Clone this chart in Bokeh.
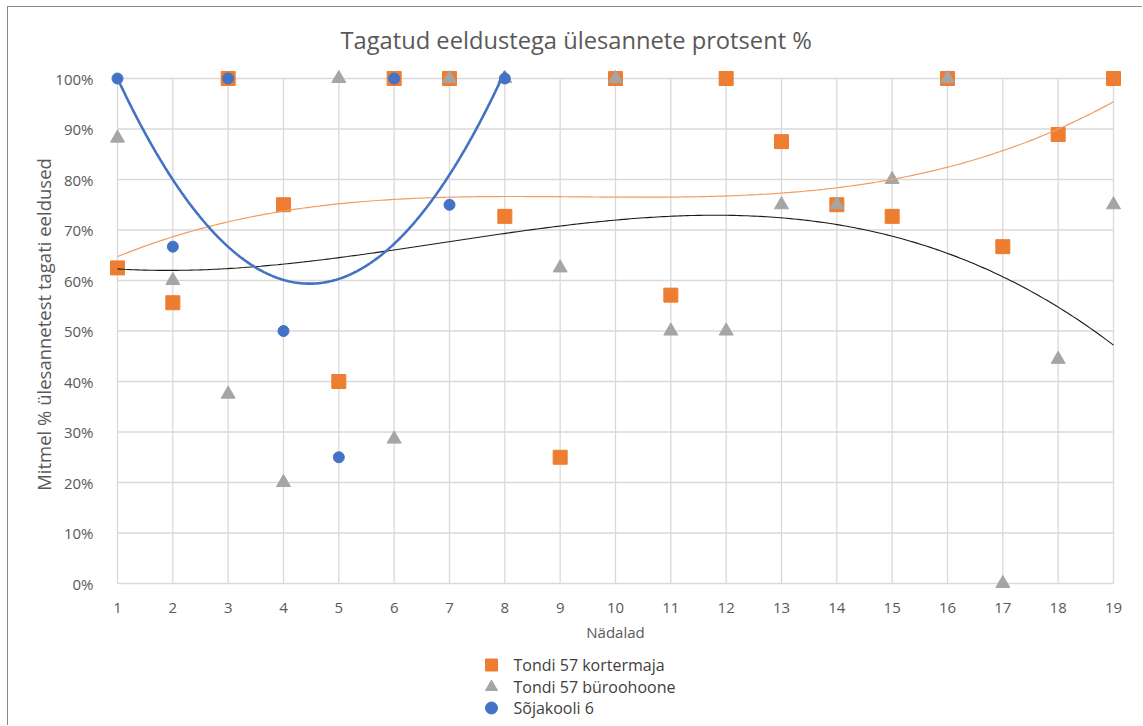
import numpy as np
from bokeh.plotting import figure
from bokeh.models import Range1d, FixedTicker, PrintfTickFormatter
from bokeh.core.properties import value
from bokeh.embed import file_html
from bokeh.resources import INLINE

# ---- data -------------------------------------------------------------
weeks = list(range(1, 20))
kortermaja = [62.5, 55.6, 100, 75, 40, 100, 100, 72.7, 25, 100,
              57.1, 100, 87.5, 75, 72.7, 100, 66.7, 88.9, 100]
buroohoone = [88.2, 60, 37.5, 20, 100, 28.6, 100, 100, 62.5, 100,
              50, 50, 75, 75, 80, 100, 0, 44.4, 75]
sojakooli_weeks = list(range(1, 9))
sojakooli = [100, 66.7, 100, 50, 25, 100, 75, 100]

x_ticks = list(range(1, 20))
y_ticks = list(range(0, 101, 10))

names = ["Tondi 57 kortermaja", "Tondi 57 büroohoone", "Sõjakooli 6"]

# ---- styling ----------------------------------------------------------
FONT = "Open Sans"
TXT = "#595959"
ORANGE, GRAY, BLUE = "#ed7d31", "#a5a5a5", "#4472c4"
GRID = "#d9d9d9"
MARKERS = [("square", ORANGE, 14), ("triangle", GRAY, 14), ("circle", BLUE, 11)]

# pixel layout (figure pixels; the figure sits inside a 1px outer border)
W, H = 1135, 719
TOP = 58                                   # space kept for the title
x_px0, x_px1 = 109, 1105                   # where weeks 1 and 19 sit
y_px100, y_px0 = 71, 576                   # where 100 % and 0 % sit
AXIS_X_PX, AXIS_Y_PX = 92, 589             # where the tick labels hang from
ppx = (x_px1 - x_px0) / (x_ticks[-1] - x_ticks[0])
ppy = (y_px0 - y_px100) / 100.0


def px_x(px):
    return x_ticks[0] + (px - x_px0) / ppx


def px_y(py):
    return 100 - (py - y_px100) / ppy


p = figure(width=W, height=H,
           x_range=Range1d(px_x(0), px_x(W)), y_range=Range1d(px_y(H), px_y(TOP)),
           output_backend="svg", toolbar_location=None,
           min_border_left=0, min_border_right=0, min_border_top=TOP, min_border_bottom=0,
           outline_line_color=None,
           styles={"margin-left": "7px", "margin-top": "6px",
                   "border-left": "1px solid #8a8a8a", "border-top": "1px solid #8a8a8a"})
p.xgrid.visible = False
p.ygrid.visible = False

# grid lines limited to the data area
p.multi_line(xs=[[x, x] for x in x_ticks], ys=[[y_ticks[0], y_ticks[-1]]] * len(x_ticks),
             line_color=GRID, line_width=1.3)
p.multi_line(xs=[[x_ticks[0], x_ticks[-1]]] * len(y_ticks), ys=[[y, y] for y in y_ticks],
             line_color=GRID, line_width=1.3)

# series
series = [(weeks, kortermaja), (weeks, buroohoone), (sojakooli_weeks, sojakooli)]
for (xs, ys), (mk, col, sz) in zip(series, MARKERS):
    p.scatter(xs, ys, marker=mk, size=sz, fill_color=col, line_color=col)


# polynomial trend lines
def trend(xs, ys, deg):
    c = np.polyfit(xs, ys, deg)
    xx = np.linspace(xs[0], xs[-1], 300)
    return xx, np.polyval(c, xx)


tx, ty = trend(weeks, kortermaja, 3)
p.line(tx, ty, line_color="#f19c63", line_width=1.2)
tx, ty = trend(weeks, buroohoone, 3)
p.line(tx, ty, line_color="#1a1a1a", line_width=1.1)
tx, ty = trend(sojakooli_weeks, sojakooli, 2)
p.line(tx, ty, line_color=BLUE, line_width=2.6)

# axes, pinned at fixed positions inside the frame
for ax in (p.xaxis[0], p.yaxis[0]):
    ax.axis_line_color = None
    ax.major_tick_line_color = None
    ax.minor_tick_line_color = None
    ax.major_label_text_font = FONT
    ax.major_label_text_font_size = "15px"
    ax.major_label_text_color = TXT
    ax.axis_label_text_font = FONT
    ax.axis_label_text_color = TXT
    ax.axis_label_text_font_style = "normal"

p.xaxis.fixed_location = px_y(AXIS_Y_PX)
p.xaxis.bounds = (x_ticks[0], x_ticks[-1])
p.xaxis.ticker = FixedTicker(ticks=x_ticks)
p.xaxis.major_label_standoff = 0
p.xaxis.axis_label = "Nädalad"
p.xaxis.axis_label_text_font_size = "15px"
p.xaxis.axis_label_standoff = 6

p.yaxis.fixed_location = px_x(AXIS_X_PX)
p.yaxis.bounds = (0, 105.1)
p.yaxis.ticker = FixedTicker(ticks=y_ticks)
p.yaxis.formatter = PrintfTickFormatter(format="%d%%")
p.yaxis.major_label_standoff = 1
p.yaxis.axis_label = "Mitmel % ülesannetest tagati eeldused"
p.yaxis.axis_label_text_font_size = "18.5px"
p.yaxis.axis_label_standoff = -4

# title
p.title.text = "Tagatud eeldustega ülesannete protsent %"
p.title.text_font = FONT
p.title.text_font_size = "23.7px"
p.title.text_font_style = "normal"
p.title.text_color = TXT
p.title.align = "left"
p.title.offset = 332
p.title.standoff = 20

# legend under the chart
LEG_MARK_PX, LEG_TEXT_PX = 483, 505
LEG_ROWS_PX = [657.5, 679.5, 700.5]
for (mk, col, _), ry, name in zip(MARKERS, LEG_ROWS_PX, names):
    p.scatter([px_x(LEG_MARK_PX)], [px_y(ry)], marker=mk, size=12, fill_color=col, line_color=col)
    p.text([px_x(LEG_TEXT_PX)], [px_y(ry)], text=[name], text_baseline="middle", text_align="left",
           text_font=value(FONT), text_font_size="16px", text_color="#404040")

open("out.html", "w").write(file_html(p, INLINE))
